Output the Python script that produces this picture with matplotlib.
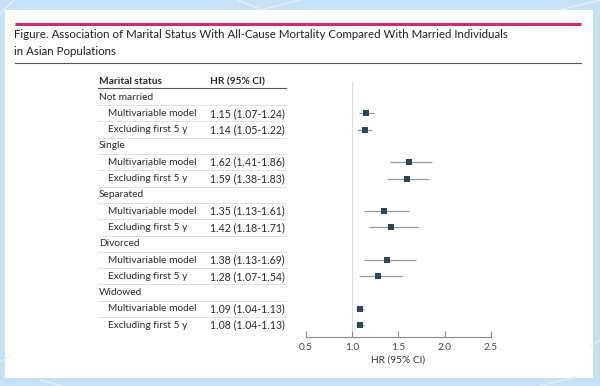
import matplotlib
matplotlib.use("Agg")
import matplotlib.pyplot as plt
from matplotlib import font_manager
from matplotlib.transforms import blended_transform_factory

# 数据
groups = ["Not married", "Single", "Separated", "Divorced", "Widowed"]
models = ["Multivariable model", "Excluding first 5 y"]
hr = [1.15, 1.14, 1.62, 1.59, 1.35, 1.42, 1.38, 1.28, 1.09, 1.08]
lo = [1.07, 1.05, 1.41, 1.38, 1.13, 1.18, 1.13, 1.07, 1.04, 1.04]
hi = [1.24, 1.22, 1.86, 1.83, 1.61, 1.71, 1.69, 1.54, 1.13, 1.13]
xticks = [0.5, 1.0, 1.5, 2.0, 2.5]

names = {f.name for f in font_manager.fontManager.ttflist}
font = "Lato" if "Lato" in names else "DejaVu Sans"

W, H = 600, 386
fig = plt.figure(figsize=(W / 100, H / 100), dpi=100)
fig.patch.set_facecolor("#c6e1f6")

# 背景和卡片 (像素坐标)
bg = fig.add_axes([0, 0, 1, 1])
bg.set_xlim(0, W)
bg.set_ylim(H, 0)
bg.axis("off")
for xs, ys in [([0, 14], [14, 0]), ([238, 262, 300], [0, 10, 0]), ([560, 600], [10, 0]),
               ([0, 10], [362, 356]), ([40, 62], [380, 386]), ([540, 575], [386, 377]),
               ([590, 600], [346, 340])]:
    bg.plot(xs, ys, color="#e3f0fb", lw=1)
bg.add_patch(plt.Rectangle((5, 10), 588, 368, facecolor="white", edgecolor="none"))
bg.plot([15, 581], [23.5, 23.5], color="#d3286e", lw=2.2, solid_capstyle="butt")
bg.plot([15, 581], [63.3, 63.3], color="#555555", lw=0.8)
bg.text(14, 34, "Figure. Association of Marital Status With All-Cause Mortality Compared With Married Individuals",
        fontsize=8.25, family=font, color="#222222", va="center")
bg.text(14, 51.5, "in Asian Populations", fontsize=8.25, family=font, color="#222222", va="center")

# 森林图
y0, dy = 97.0, 16.3
ax_top, ax_bot = 82.0, 337.0
ax = fig.add_axes([306 / W, 1 - ax_bot / H, (490.7 - 306) / W, (ax_bot - ax_top) / H])
ax.set_xlim(0.5, 2.5)
ax.set_ylim((ax_bot - y0) / dy, (ax_top - y0) / dy)
ax.patch.set_alpha(0)
for s in ["top", "right", "left"]:
    ax.spines[s].set_visible(False)
ax.spines["bottom"].set_color("#888888")
ax.spines["bottom"].set_linewidth(0.8)
ax.set_yticks([])
ax.set_xticks(xticks)
ax.set_xticklabels([f"{t:.1f}" for t in xticks], family=font, fontsize=7.3, color="#444444")
ax.tick_params(axis="x", direction="in", length=4, width=0.8, color="#888888", pad=4)
ax.set_xlabel("HR (95% CI)", family=font, fontsize=7.3, color="#333333", labelpad=3)
ax.axvline(1.0, color="#dddddd", lw=0.8, zorder=0)

# 行号：每组一行标题，两行模型
rows = []
i = 0
for g in groups:
    rows.append((i, g, False))
    i += 1
    for m in models:
        rows.append((i, m, True))
        i += 1

ys = [r for r, _, sub in rows if sub]
ax.hlines(ys, lo, hi, color="#999999", lw=0.9, zorder=2)
ax.scatter(hr, ys, marker="s", s=18, color="#2f4654", zorder=3, linewidths=0)

# 表格
tr = blended_transform_factory(fig.transFigure, ax.transData)
tf = dict(family=font, fontsize=7.3, color="#2a2a2a", va="center", transform=tr)
hdr_y = (81.5 - y0) / dy
fig.text(99 / W, hdr_y, "Marital status", fontweight="bold", **tf)
fig.text(210 / W, hdr_y, "HR (95% CI)", fontweight="bold", **tf)
line_kw = dict(transform=tr, color="#e2e2e2", lw=0.7)
fig.lines.append(plt.Line2D([98 / W, 286 / W], [(87.5 - y0) / dy] * 2, color="#555555", lw=0.8, transform=tr))
j = 0
for r, label, sub in rows:
    if not sub:
        fig.text(99 / W, r, label, **tf)
    else:
        fig.text(107.5 / W, r, label, **tf)
        fig.text(210 / W, r, f"{hr[j]:.2f} ({lo[j]:.2f}-{hi[j]:.2f})", **{**tf, "fontsize": 7.6})
        j += 1
    if r < len(rows) - 1:
        fig.lines.append(plt.Line2D([98 / W, 286 / W], [r + 0.5] * 2, **line_kw))

fig.savefig("out.png", dpi=100, facecolor=fig.get_facecolor())
